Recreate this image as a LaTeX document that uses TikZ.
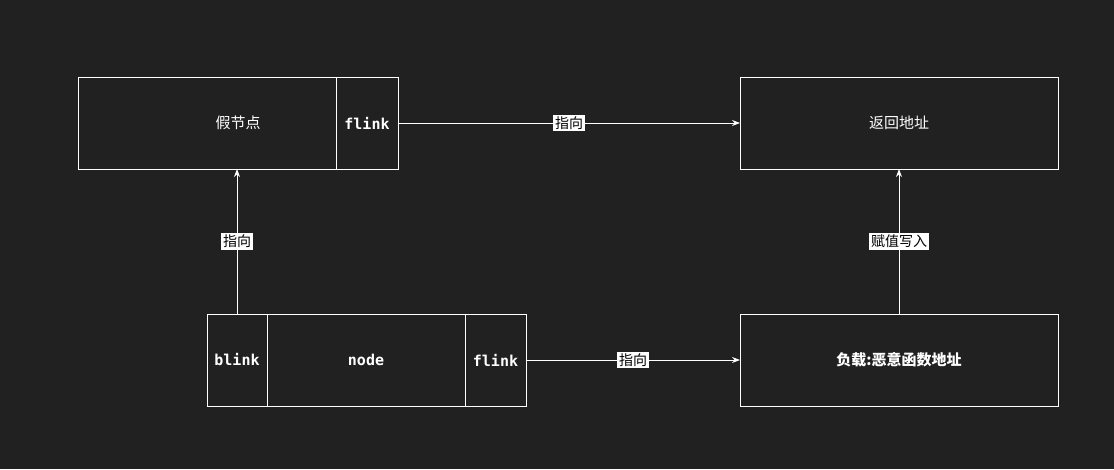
\documentclass[tikz,border=0pt]{standalone}
\usepackage{fontspec}
\setmainfont{Noto Sans CJK SC}
\setmonofont{DejaVu Sans Mono}
\usepackage{xcolor}
\usetikzlibrary{arrows.meta,positioning,calc}

\definecolor{bgdark}{HTML}{212121}

\begin{document}
\begin{tikzpicture}[
    x=1pt, y=-1pt,
    cell/.style={rectangle, draw=white, line width=1pt, text=white, inner sep=0pt, outer sep=0pt, minimum height=92pt, font=\fontsize{15}{17}\selectfont},
    field/.style={cell, font=\fontsize{15}{17}\selectfont\ttfamily\bfseries},
    arrow/.style={-{Stealth[length=8pt,width=6pt]}, white, line width=0.8pt},
    tag/.style={fill=white, text=black, inner sep=2pt, font=\fontsize{14}{16}\selectfont}
]
    \fill[bgdark] (0,0) rectangle (1114,469);
    \useasboundingbox (0,0) rectangle (1114,469);

    % Top row
    \node[cell, minimum width=258pt] (fake) at (207,123) {};
    \node[field, minimum width=62pt, right=0pt of fake] (fflink) {flink};
    \node[text=white, font=\fontsize{15}{17}\selectfont] (fakename) at ($(fake.west)!0.5!(fflink.east)$) {假节点};
    \node[cell, minimum width=318pt] (ret) at (899,123) {返回地址};

    % Bottom row
    \node[field, minimum width=60pt] (blink) at (237,360) {blink};
    \node[field, minimum width=198pt, right=0pt of blink] (cur) {node};
    \node[field, minimum width=61pt, right=0pt of cur] (bflink) {flink};
    \node[cell, minimum width=318pt, font=\fontsize{15}{17}\selectfont\bfseries] (payload) at (899,360) {负载:恶意函数地址};

    % Arrows
    \draw[arrow] (fflink) -- node[tag] {指向} (ret);
    \draw[arrow] (blink) -- node[tag] {指向} (blink |- fake.south);
    \draw[arrow] (bflink) -- node[tag] {指向} (payload);
    \draw[arrow] (payload) -- node[tag] {赋值写入} (ret);
\end{tikzpicture}
\end{document}
